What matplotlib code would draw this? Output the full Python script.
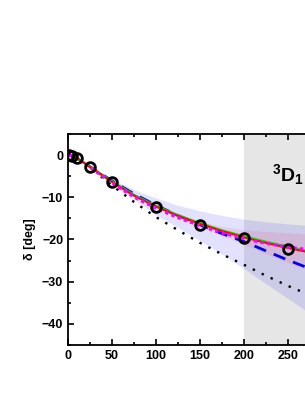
import matplotlib
matplotlib.use("Agg")
import matplotlib.pyplot as plt
from matplotlib.ticker import MultipleLocator

plt.rcParams['font.family'] = ['Liberation Sans', 'DejaVu Sans']
plt.rcParams['font.weight'] = 'bold'
plt.rcParams['mathtext.fontset'] = 'custom'
plt.rcParams['mathtext.rm'] = 'Liberation Sans:bold'
plt.rcParams['mathtext.bf'] = 'Liberation Sans:bold'

# data points (phase shifts)
e_data = [1, 5, 10, 25, 50, 100, 150, 200, 250]
d_data = [-0.005, -0.18, -0.67, -2.80, -6.43, -12.23, -16.48, -19.71, -22.16]

# model curves
e_curve = [0, 5, 10, 25, 50, 75, 100, 125, 150, 175, 200, 225, 250, 275, 300]
green = [0, -0.18, -0.68, -2.8, -6.3, -9.5, -12.1, -14.3, -16.2, -17.9, -19.3, -20.6, -21.8, -22.9, -23.8]
red = [0, -0.18, -0.68, -2.8, -6.35, -9.6, -12.2, -14.4, -16.3, -18.0, -19.5, -20.8, -22.0, -23.1, -24.0]
magenta = [0, -0.2, -0.72, -2.9, -6.6, -9.9, -12.6, -14.8, -16.7, -18.4, -19.8, -20.9, -21.8, -22.5, -23.1]
blue = [0, -0.18, -0.66, -2.75, -6.1, -9.2, -11.9, -14.3, -16.5, -18.6, -20.5, -22.7, -24.9, -26.9, -28.8]
black = [0, -0.2, -0.7, -3.0, -7.2, -11.1, -14.7, -17.8, -20.8, -23.5, -26.0, -28.6, -31.0, -33.2, -35.0]

# uncertainty bands
e_band = [0, 25, 50, 75, 100, 125, 150, 175, 200, 225, 250, 275, 300]
blue_hi = [0, -2.6, -5.6, -8.2, -10.2, -11.9, -13.2, -14.3, -15.2, -15.8, -16.3, -16.7, -17.0]
blue_lo = [0, -2.9, -6.9, -10.5, -14.2, -17.2, -20.3, -23.5, -26.9, -30.5, -34.0, -37.6, -41.0]
pink_hi = [0, -2.8, -6.2, -9.4, -11.8, -14.0, -15.7, -16.9, -17.7, -18.1, -18.4, -18.7, -19.0]
pink_lo = [0, -2.9, -6.5, -9.8, -12.6, -15.0, -17.0, -19.1, -21.2, -23.4, -25.5, -27.5, -29.5]

x_ticks = [0, 50, 100, 150, 200, 250]

fig = plt.figure(figsize=(3.05, 3.95), dpi=100)
ax = fig.add_axes([0.223, 0.1266, 0.8656, 0.5342])

ax.axvspan(200, 300, color='#e6e6e6', zorder=0, lw=0)
ax.fill_between(e_band, blue_lo, blue_hi, color='#3333ff', alpha=0.14, lw=0, zorder=1)
ax.fill_between(e_band, pink_lo, pink_hi, color='#ff3366', alpha=0.13, lw=0, zorder=2)

ax.plot(e_curve, black, color='black', lw=1.7, ls=(0, (1, 3.2)), zorder=3)
ax.plot(e_curve, blue, color='#0000ee', lw=2.0, ls=(0, (4.5, 3)), zorder=4)
ax.plot(e_curve, green, color='#00ee00', lw=2.0, zorder=5)
ax.plot(e_curve, red, color='#ff0000', lw=1.4, zorder=6)
ax.plot(e_curve, magenta, color='#ff00ff', lw=2.4, ls=(0, (1, 1)), zorder=7)
ax.plot(e_data, d_data, 'o', ms=7, mfc='none', mec='black', mew=2.0, zorder=8)

ax.text(232, -4.5, r'$\mathbf{^{3}D_{1}}$', fontsize=14, va='center', ha='left')

ax.set_xlim(0, 300)
ax.set_ylim(-45, 5)
ax.set_xticks(x_ticks)
ax.xaxis.set_minor_locator(MultipleLocator(25))
ax.yaxis.set_major_locator(MultipleLocator(10))
ax.yaxis.set_minor_locator(MultipleLocator(5))
ax.tick_params(which='both', direction='in', top=True, right=True, labelsize=9, width=1.2)
ax.tick_params(which='major', length=4)
ax.tick_params(which='minor', length=2.5)
for s in ax.spines.values():
    s.set_linewidth(1.3)
ax.set_ylabel(r'δ [deg]', fontsize=9, fontweight='bold', labelpad=4)

fig.savefig('out.png', dpi=100)
